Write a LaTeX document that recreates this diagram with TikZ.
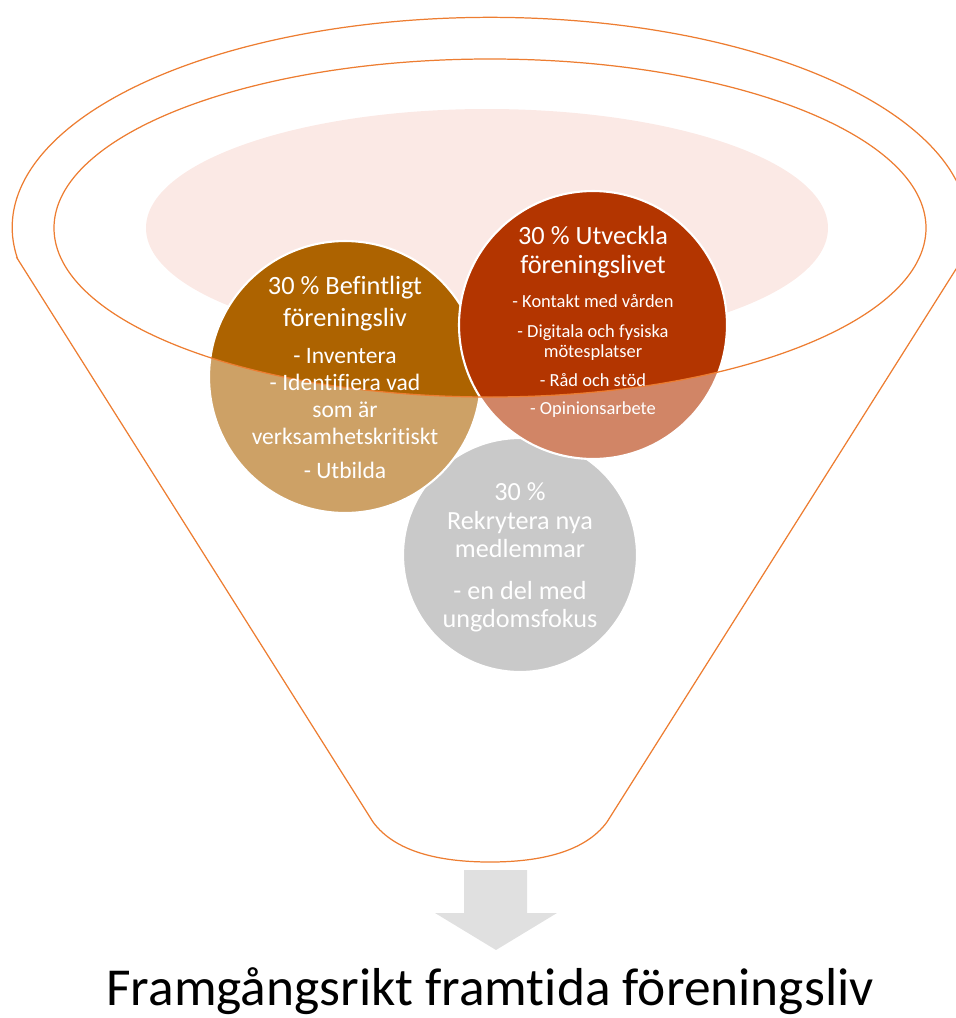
\documentclass[tikz,border=0pt]{standalone}
\usepackage{fontspec}
\setmainfont{Carlito}[Ligatures=NoCommon]
\definecolor{funnelorange}{HTML}{ED7D31}
\definecolor{rimpink}{HTML}{FBE9E5}
\definecolor{befbrown}{HTML}{AD6300}
\definecolor{utvred}{HTML}{B33500}
\definecolor{rekgray}{HTML}{A5A5A5}
\definecolor{arrowgray}{HTML}{E0E0E0}
\newcommand{\bigline}{\fontsize{15}{15.4}\selectfont}
\tikzset{
	circlestyle/.style={circle,draw=white,line width=1.2pt,inner sep=0pt},
	textstyle/.style={text=white,align=center},
	bigtextstyle/.style={textstyle,font=\fontsize{14.9}{15.37}\selectfont},
	midtextstyle/.style={textstyle,font=\fontsize{13.4}{15.37}\selectfont},
	smalltextstyle/.style={textstyle,font=\fontsize{10.5}{11.4}\selectfont},
	funnelstyle/.style={draw=funnelorange,line width=0.7pt},
	overlaystyle/.style={fill=white,fill opacity=0.4,even odd rule}
}
\begin{document}
\begin{tikzpicture}[x=0.02cm,y=-0.02cm]
		\clip (0,0) rectangle (956,1018);
		\fill[rimpink] (487,228) ellipse (341 and 119);
		\node[circlestyle,fill=rekgray,minimum size=4.68cm] (rek) at (520,555) {};
		\node[circlestyle,fill=befbrown,minimum size=5.44cm] (bef) at (345,377) {};
		\node[circlestyle,fill=utvred,minimum size=5.36cm] (utv) at (593,325) {};
		% front of the funnel
		\fill[overlaystyle] (17,258) -- (373,822) .. controls (395,852) and (440,862) .. (490,862)
			.. controls (540,862) and (585,852) .. (607,822) -- (963,258)
			arc[start angle=8.4,end angle=-188.4,x radius=478,y radius=210] -- cycle
			(490,228) ellipse (436 and 169);
		\draw[funnelstyle] (17,258) -- (373,822) .. controls (395,852) and (440,862) .. (490,862)
			.. controls (540,862) and (585,852) .. (607,822) -- (963,258)
			arc[start angle=8.4,end angle=-188.4,x radius=478,y radius=210] -- cycle;
		\draw[funnelstyle] (490,228) ellipse (436 and 169);
		\node[midtextstyle] (beftext) at (bef) {\bigline 30 \% Befintligt\\[2.8pt] \bigline föreningsliv\\[5.7pt] - Inventera\\ - Identifiera vad\\ som är\\ verksamhetskritiskt\\[4pt] - Utbilda};
		\node[smalltextstyle,yshift=0.06cm] (utvtext) at (utv) {\bigline 30 \% Utveckla\\[5.1pt] \bigline föreningslivet\\[8pt] - Kontakt med vården\\[5.7pt] - Digitala och fysiska\\ mötesplatser\\[5.1pt] - Råd och stöd\\[4.6pt] - Opinionsarbete};
		\node[bigtextstyle,yshift=-0.04cm] (rektext) at (rek) {30 \%\\[1.1pt] Rekrytera nya\\[0.6pt] medlemmar\\[8.5pt] - en del med\\[0.6pt] ungdomsfokus};
		\fill[arrowgray] (464,870) -- (527,870) -- (527,913) -- (557,913) -- (496,950) -- (435,913) -- (464,913) -- cycle;
		\node[font=\fontsize{30.4}{35}\selectfont,anchor=base] (goal) at (490,1005) {Framgångsrikt framtida föreningsliv};
\end{tikzpicture}
\end{document}
